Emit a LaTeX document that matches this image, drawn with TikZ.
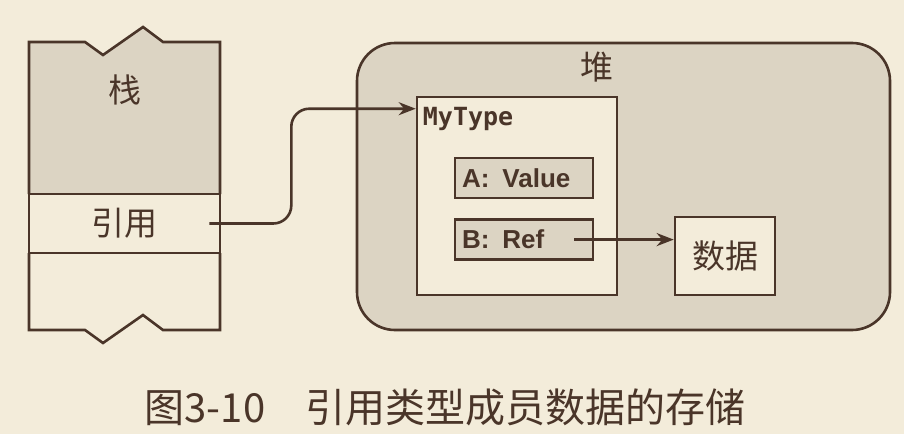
\documentclass[tikz,border=0pt]{standalone}
\usepackage{fontspec}
\newfontfamily\cjk{Noto Sans CJK SC}
\newfontfamily\codefont{DejaVu Sans Mono}
\newfontfamily\fieldfont{Liberation Sans}
\usetikzlibrary{positioning, arrows.meta}
\definecolor{paper}{HTML}{F3ECDA}
\definecolor{shade}{HTML}{DCD4C3}
\definecolor{ink}{HTML}{4A3529}
\tikzset{
  box/.style={rectangle, draw=ink, line width=2.6pt, text=ink},
  field/.style={box, fill=shade, text width=124pt, inner xsep=7pt, align=left,
    minimum height=40pt, font=\fieldfont\bfseries\fontsize{26}{28}\selectfont},
  hanzi/.style={text=ink, font=\cjk\fontsize{33}{36}\selectfont},
  link/.style={draw=ink, line width=2.6pt, -{Stealth[length=17pt, width=13pt]}},
}

\begin{document}
\begin{tikzpicture}[x=1pt, y=-1pt]
  \fill[paper] (0,0) rectangle (904,434);
  \useasboundingbox (0,0) rectangle (904,434);

  % heap
  \node (heap) [box, fill=shade, rounded corners=38pt,
    minimum width=533pt, minimum height=287pt] at (623.5,186.5) {};
  \node (heaplabel) [hanzi] at (597,67) {堆};
  \node (mytype) [box, fill=paper, minimum width=200pt, minimum height=198pt] at (517,196) {};
  \node (typename) [below right=11pt and 7pt of mytype.north west, inner sep=0pt, text=ink,
    font=\codefont\bfseries\fontsize{25}{28}\selectfont] {MyType};
  \node (fieldA) [field] at (524,178) {A:\, Value};
  \node (fieldB) [field, below=19pt of fieldA] {B:\, Ref};
  \node (data) [box, fill=paper, hanzi, minimum width=100pt, minimum height=78pt] at (725,256) {数据};

  % stack
  \filldraw[fill=shade, draw=ink, line width=2.6pt, line join=miter]
    (29,194) -- (29,42) -- (85,42) -- (103,55) -- (143,27) -- (163,42) -- (220,42) -- (220,194);
  \node (stacklabel) [hanzi] at (125,90) {栈};
  \node (ref) [box, fill=paper, hanzi, minimum width=191pt, minimum height=59pt] at (124.5,223.5) {引用};
  \draw[draw=ink, line width=2.6pt, line join=miter]
    (29,253) -- (29,330) -- (85,330) -- (103,343) -- (143,315) -- (163,330) -- (220,330) -- (220,253);

  % connectors
  \draw[link, rounded corners=18pt] ([xshift=-12pt]ref.east) -- ++(82,0) |- ([yshift=-13pt]mytype.north west);
  \draw[link] ([xshift=-20pt]fieldB.east) -- (fieldB.east -| data.west);

  \node (caption) [text=ink, font=\cjk\fontsize{40}{42}\selectfont] at (445,407)
    {图3-10\hspace{1em}引用类型成员数据的存储};
\end{tikzpicture}
\end{document}
